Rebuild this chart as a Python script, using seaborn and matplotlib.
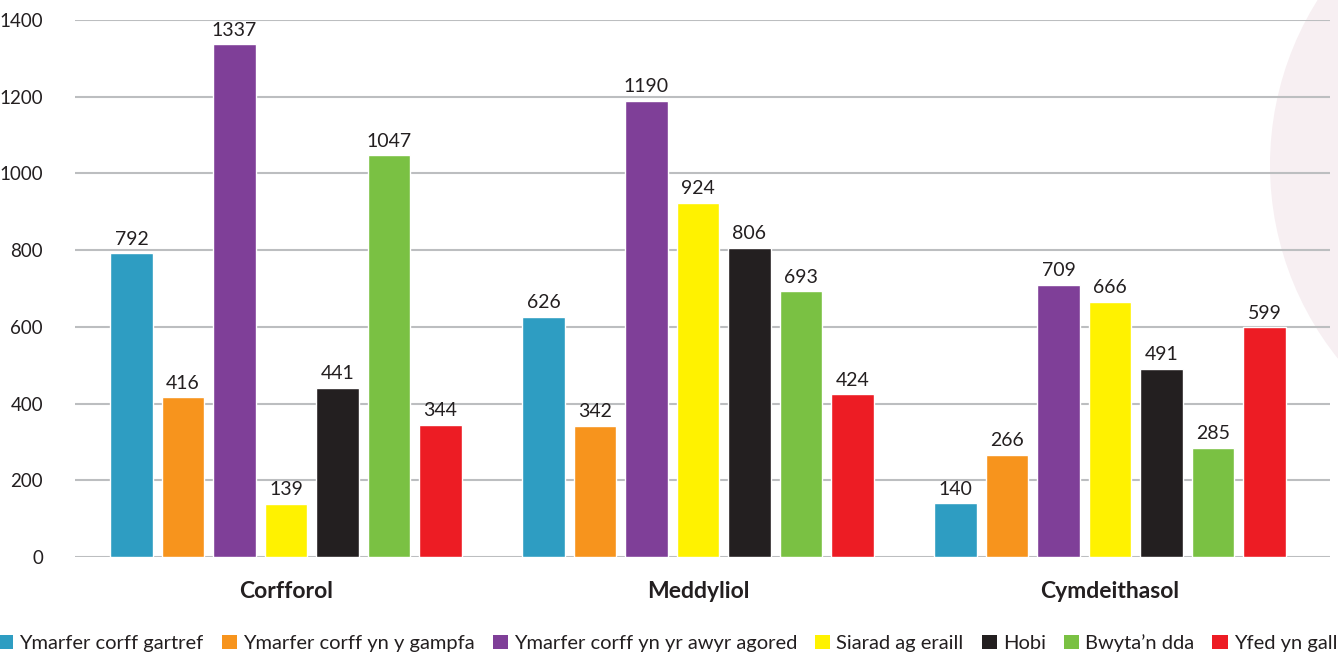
import matplotlib
matplotlib.use("Agg")
import matplotlib.pyplot as plt
import matplotlib.patches as mpatches
import seaborn as sns
import pandas as pd

categories = ["Corfforol", "Meddyliol", "Cymdeithasol"]
series = ["Ymarfer corff gartref", "Ymarfer corff yn y gampfa",
          "Ymarfer corff yn yr awyr agored", "Siarad ag eraill", "Hobi",
          "Bwyta\u2019n dda", "Yfed yn gall"]
gartref = [792, 626, 140]
gampfa = [416, 342, 266]
awyr_agored = [1337, 1190, 709]
siarad = [139, 924, 666]
hobi = [441, 806, 491]
bwyta = [1047, 693, 285]
yfed = [344, 424, 599]
colors = ["#2e9dc2", "#f7941d", "#7f3f98", "#fff200", "#231f20", "#7ac143", "#ed1c24"]
yticks = [0, 200, 400, 600, 800, 1000, 1200, 1400]

values = [gartref, gampfa, awyr_agored, siarad, hobi, bwyta, yfed]
rows = []
for s, vals in zip(series, values):
    for c, v in zip(categories, vals):
        rows.append({"cat": c, "series": s, "value": v})
df = pd.DataFrame(rows)

sns.set_style("white")
plt.rcParams["font.family"] = ["Lato", "DejaVu Sans"]
text_color = "#231f20"

W, H = 1338, 655
fig = plt.figure(figsize=(W / 100, H / 100), dpi=100)
# background circle (drawn in figure fraction, corrected for aspect)
cx, cy, r = 1580, 165, 310
circ = mpatches.Ellipse((cx / W, 1 - cy / H), 2 * r / W, 2 * r / H, transform=fig.transFigure,
                        facecolor="#f7eff2", edgecolor="none", zorder=-5)
fig.patches.append(circ)

ax = fig.add_axes([75 / W, 1 - 557 / H, (1330 - 75) / W, (557 - 20) / H])
ax.set_zorder(2)
ax.patch.set_alpha(0)
sns.barplot(data=df, x="cat", y="value", hue="series", order=categories,
            hue_order=series, palette=colors, width=0.875, gap=0.18,
            saturation=1, ax=ax, legend=False, zorder=3)

for cont in ax.containers:
    ax.bar_label(cont, padding=4, fontsize=14, color=text_color)

ax.set_ylim(0, 1400)
ax.set_xlim(-0.512, 2.534)
ax.set_yticks(yticks)
ax.yaxis.grid(True, color="#bcbec0", linewidth=1.5, zorder=0)
ax.set_axisbelow(True)
for sp in ax.spines.values():
    sp.set_visible(False)
ax.tick_params(axis="y", length=0, pad=23, labelsize=13.5, labelcolor=text_color)
ax.tick_params(axis="x", length=0, pad=17, labelsize=16.5, labelcolor=text_color)
for lbl in ax.get_xticklabels():
    lbl.set_fontweight("bold")
ax.set_xlabel("")
ax.set_ylabel("")

handles = [mpatches.Patch(facecolor=c, edgecolor="none", label=s) for s, c in zip(series, colors)]
fig.legend(handles=handles, loc="center", bbox_to_anchor=(0.499, 1 - 643 / H), ncol=7,
           frameon=False, fontsize=14.5, handlelength=0.75, handleheight=0.75,
           handletextpad=0.3, columnspacing=0.9, labelcolor=text_color)

fig.savefig("out.png", dpi=100)
